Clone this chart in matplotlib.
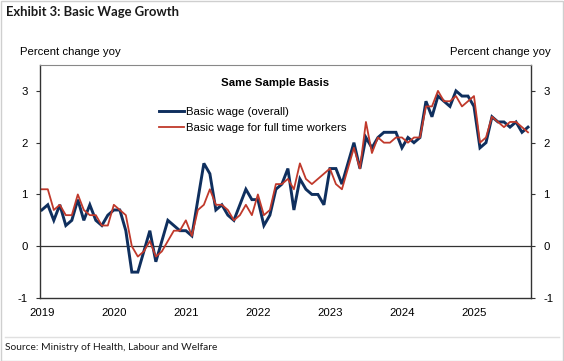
import matplotlib

matplotlib.use("Agg")
import matplotlib.pyplot as plt  # noqa: E402
import numpy as np  # noqa: E402
from matplotlib.patches import Rectangle  # noqa: E402
from matplotlib.lines import Line2D  # noqa: E402

# monthly yoy % change, Jan 2019 .. Oct 2025
years = ["2019", "2020", "2021", "2022", "2023", "2024", "2025"]

basic_overall = [
    0.7, 0.8, 0.5, 0.8, 0.4, 0.5, 0.9, 0.5, 0.8, 0.5, 0.4, 0.6,
    0.7, 0.7, 0.3, -0.5, -0.5, -0.1, 0.3, -0.3, 0.1, 0.5, 0.4, 0.3,
    0.3, 0.2, 0.9, 1.6, 1.4, 0.7, 0.8, 0.6, 0.5, 0.8, 1.1, 0.9,
    0.9, 0.4, 0.6, 1.1, 1.2, 1.5, 0.7, 1.3, 1.1, 1.0, 1.0, 0.8,
    1.5, 1.5, 1.2, 1.6, 2.0, 1.5, 2.1, 1.9, 2.1, 2.2, 2.2, 2.2,
    1.9, 2.1, 2.0, 2.1, 2.8, 2.5, 2.9, 2.8, 2.7, 3.0, 2.9, 2.9,
    2.7, 1.9, 2.0, 2.5, 2.4, 2.4, 2.3, 2.4, 2.2, 2.3,
]
basic_full_time = [
    1.1, 1.1, 0.7, 0.8, 0.6, 0.6, 1.0, 0.7, 0.6, 0.6, 0.4, 0.4,
    0.8, 0.7, 0.6, 0.0, -0.2, -0.1, 0.1, -0.2, -0.1, 0.1, 0.3, 0.3,
    0.5, 0.2, 0.7, 0.8, 1.1, 0.8, 0.8, 0.7, 0.5, 0.6, 0.8, 0.6,
    1.0, 0.6, 0.7, 1.2, 1.2, 1.3, 1.1, 1.6, 1.3, 1.2, 1.3, 1.4,
    1.5, 1.2, 1.1, 1.5, 1.9, 1.5, 2.4, 1.8, 2.1, 2.0, 2.0, 2.1,
    2.1, 2.0, 2.1, 2.1, 2.7, 2.7, 3.0, 2.8, 2.8, 2.9, 2.7, 2.8,
    2.9, 2.0, 2.1, 2.5, 2.4, 2.3, 2.4, 2.4, 2.3, 2.2,
]

BLUE = "#0f2f5e"
RED = "#c0392b"
AX_COLOR = "#333333"
FONT = "Liberation Sans"
HEAD_FONT = "Lato"
FS = 8.2

plt.rcParams["axes.unicode_minus"] = False

W, H = 564, 361
fig = plt.figure(figsize=(W / 100, H / 100), dpi=100)
fig.patch.set_facecolor("white")
fig.add_artist(Rectangle((0.5 / W, 0.5 / H), 1 - 1.5 / W, 1 - 1.5 / H,
                         transform=fig.transFigure, fill=False,
                         edgecolor="#cfcfcf", linewidth=1.0))

ax = fig.add_axes([40 / W, 1 - 298 / H, (531 - 40) / W, (298 - 65) / H])
x = np.arange(len(basic_overall))
ax.plot(x, basic_overall, color=BLUE, linewidth=2.1, solid_joinstyle="miter")
ax.plot(x, basic_full_time, color=RED, linewidth=1.3)
ax.axhline(0, color=AX_COLOR, linewidth=0.9, zorder=1)

ax.set_xlim(-0.3, 81.5)
ax.set_ylim(-1, 3.5)
ax.set_yticks([-1, 0, 1, 2, 3])
ax.set_xticks(np.arange(len(years)) * 12)
ax.set_xticklabels(years)
ax.tick_params(axis="x", length=0, pad=7, labelsize=FS, labelcolor="black")
ax.tick_params(axis="y", direction="out", length=3, width=0.8, color=AX_COLOR,
               labelsize=FS, pad=6, left=True, right=True,
               labelleft=True, labelright=True)
for lab in ax.get_xticklabels() + ax.get_yticklabels():
    lab.set_fontfamily(FONT)
for side in ["left", "right", "bottom"]:
    ax.spines[side].set_color(AX_COLOR)
    ax.spines[side].set_linewidth(1.0)
ax.spines["top"].set_color("#888888")
ax.spines["top"].set_linewidth(0.8)

handles = [Line2D([], [], color=BLUE, linewidth=2.1),
           Line2D([], [], color=RED, linewidth=1.3)]
fig.legend(handles, ["Basic wage (overall)", "Basic wage for full time workers"],
           loc="upper left", bbox_to_anchor=(159 / W, 1 - 107 / H),
           frameon=False, borderpad=0, borderaxespad=0,
           handlelength=2.2, handletextpad=0.15, labelspacing=0.55,
           prop={"family": FONT, "size": FS})

fig.text(275 / W, 1 - 83 / H, "Same Sample Basis", ha="center", va="center",
         fontsize=FS, fontweight="bold", family=FONT)
fig.text(70 / W, 1 - 52 / H, "Percent change yoy", ha="center", va="center",
         fontsize=FS, family=FONT)
fig.text(500 / W, 1 - 52 / H, "Percent change yoy", ha="center", va="center",
         fontsize=FS, family=FONT)

fig.text(6 / W, 1 - 12 / H, "Exhibit 3: Basic Wage Growth", ha="left",
         va="center", fontsize=9.4, fontweight="bold", family=HEAD_FONT,
         color="#1a1a1a")
fig.add_artist(Line2D([5 / W, 1 - 5 / W], [1 - 337 / H, 1 - 337 / H],
                      transform=fig.transFigure, color="#e0e0e0", linewidth=1.0))
fig.text(5 / W, 1 - 348 / H, "Source: Ministry of Health, Labour and Welfare",
         ha="left", va="center", fontsize=7.4, family=HEAD_FONT, color="#1a1a1a")

fig.savefig("out.png", dpi=100)
plt.close(fig)
